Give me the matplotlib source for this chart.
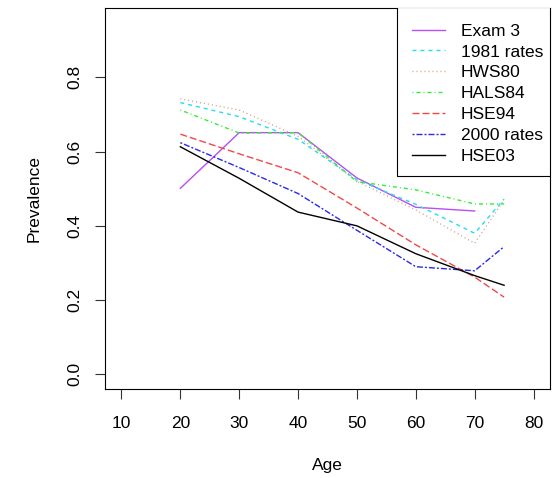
import matplotlib
matplotlib.use("Agg")
import matplotlib.pyplot as plt
from matplotlib.patches import Rectangle

plt.rcParams['font.family'] = ['Liberation Sans', 'DejaVu Sans']

ages = [20, 30, 40, 50, 60, 70, 75]
exam3 = [0.501, 0.651, 0.651, 0.529, 0.450, 0.440]
rates1981 = [0.732, 0.694, 0.633, 0.524, 0.458, 0.380, 0.472]
hws80 = [0.742, 0.712, 0.641, 0.520, 0.443, 0.353, 0.470]
hals84 = [0.712, 0.650, 0.651, 0.519, 0.497, 0.459, 0.459]
hse94 = [0.647, 0.594, 0.543, 0.448, 0.349, 0.262, 0.208]
rates2000 = [0.624, 0.557, 0.487, 0.388, 0.290, 0.279, 0.344]
hse03 = [0.613, 0.528, 0.437, 0.400, 0.325, 0.266, 0.240]

labels = ["Exam 3", "1981 rates", "HWS80", "HALS84", "HSE94", "2000 rates", "HSE03"]
series = [exam3, rates1981, hws80, hals84, hse94, rates2000, hse03]
colors = ["#B84EF5", "#22DDEE", "#CFA080", "#33EE33", "#F04848", "#2828EE", "#000000"]
px = 0.72
dashes = [None, (4*px, 4*px), (1*px, 3*px), (1*px, 3*px, 4*px, 3*px),
          (7*px, 3*px), (2*px, 2*px, 6*px, 2*px), None]

fig = plt.figure(figsize=(5.57, 4.78), dpi=100)
ax = fig.add_axes([105/557, 1-388.5/478, 445/557, 381/478])

for lab, vals, c, d in zip(labels, series, colors, dashes):
    x = ages[:len(vals)]
    line, = ax.plot(x, vals, color=c, lw=1.0, label=lab)
    if d is not None:
        line.set_dashes(d)

fs = 12.5
ax.set_xlim(7.2, 82.8)
ax.set_ylim(-0.038, 0.988)
ax.set_xticks([10, 20, 30, 40, 50, 60, 70, 80])
ax.set_yticks([0.0, 0.2, 0.4, 0.6, 0.8])
ax.set_yticklabels(["0.0", "0.2", "0.4", "0.6", "0.8"], rotation=90, va='center')
ax.tick_params(axis='both', length=7, width=0.8, labelsize=fs, color='#333333')
ax.tick_params(axis='x', pad=12.5)
ax.tick_params(axis='y', pad=9.5)
for s in ax.spines.values():
    s.set_linewidth(0.8)
ax.set_xlabel("Age", fontsize=fs, labelpad=20)
ax.set_ylabel("Prevalence", fontsize=fs, labelpad=18)

# legend box (R style) and entries
box = Rectangle((0.656, 0.559), 0.344, 0.441, transform=ax.transAxes,
                facecolor='white', edgecolor='black', lw=0.8, zorder=4)
ax.add_patch(box)
leg = ax.legend(loc='upper left', bbox_to_anchor=(0.690, 0.958), fontsize=fs,
                frameon=False, borderaxespad=0, borderpad=0, handlelength=1.9,
                handletextpad=0.92, labelspacing=0.33)
leg.set_zorder(5)

fig.savefig("out.png", dpi=100)
